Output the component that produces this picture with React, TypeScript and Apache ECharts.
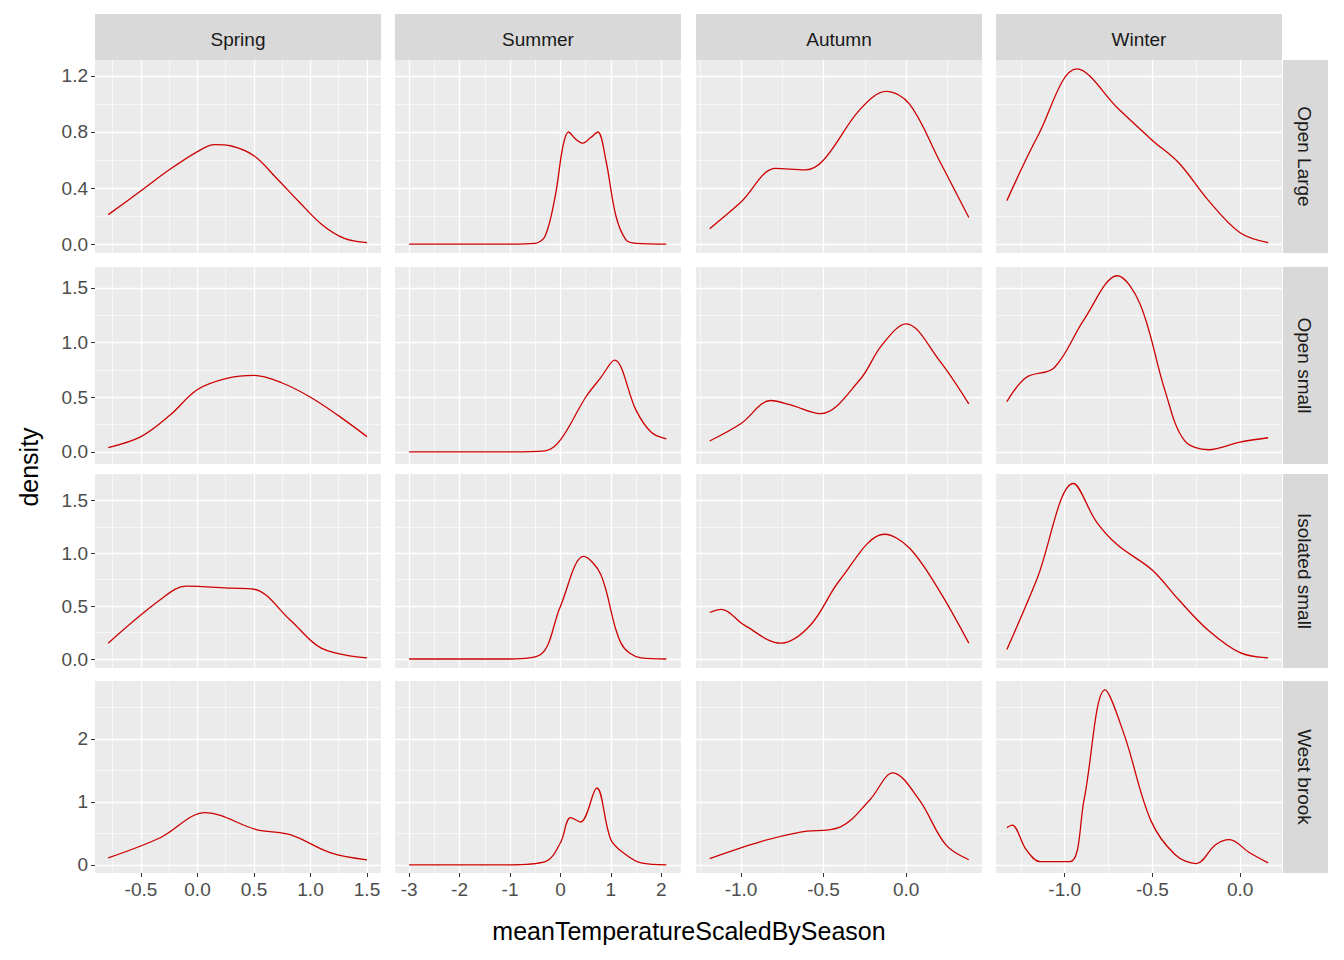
import { useEffect, useRef } from "react";
import * as echarts from "echarts";

const SEASONS = ["Spring", "Summer", "Autumn", "Winter"];
const SITES = ["Open Large", "Open small", "Isolated small", "West brook"];

// x ranges / ticks per column (free x)
const X_RANGE = [[-0.907, 1.624], [-3.28, 2.39], [-1.273, 0.46], [-1.392, 0.239]];
const X_MAJOR = [[-0.5, 0, 0.5, 1, 1.5], [-3, -2, -1, 0, 1, 2], [-1, -0.5, 0], [-1, -0.5, 0]];
const X_MINOR = [[-0.75, -0.25, 0.25, 0.75, 1.25], [-2.5, -1.5, -0.5, 0.5, 1.5], [-1.25, -0.75, -0.25, 0.25], [-1.25, -0.75, -0.25]];
// y ranges / ticks per row (free y)
const Y_RANGE = [[-0.064, 1.314], [-0.11, 1.69], [-0.085, 1.75], [-0.13, 2.92]];
const Y_MAJOR = [[0, 0.4, 0.8, 1.2], [0, 0.5, 1, 1.5], [0, 0.5, 1, 1.5], [0, 1, 2]];
const Y_MINOR = [[0.2, 0.6, 1.0], [0.25, 0.75, 1.25], [0.25, 0.75, 1.25], [0.5, 1.5, 2.5]];

// density curves [row][col] as [x, y] pairs
const OL_SPRING = [[-0.79, 0.21], [-0.5, 0.38], [-0.25, 0.53], [0, 0.66], [0.15, 0.71], [0.3, 0.7], [0.5, 0.63], [0.7, 0.47], [0.9, 0.3], [1.1, 0.14], [1.3, 0.04], [1.5, 0.01]];
const OL_SUMMER = [[-3, 0], [-1, 0], [-0.5, 0.005], [-0.3, 0.06], [-0.1, 0.35], [0.05, 0.7], [0.16, 0.8], [0.3, 0.75], [0.44, 0.72], [0.6, 0.76], [0.74, 0.8], [0.9, 0.6], [1.1, 0.2], [1.3, 0.03], [1.5, 0.005], [2.1, 0]];
const OL_AUTUMN = [[-1.19, 0.11], [-1.0, 0.3], [-0.79, 0.54], [-0.61, 0.53], [-0.5, 0.6], [-0.28, 0.96], [-0.12, 1.09], [0.02, 1.0], [0.2, 0.6], [0.38, 0.19]];
const OL_WINTER = [[-1.33, 0.31], [-1.15, 0.78], [-0.93, 1.25], [-0.69, 0.96], [-0.5, 0.74], [-0.35, 0.58], [-0.18, 0.31], [0, 0.08], [0.16, 0.01]];
const OS_SPRING = [[-0.79, 0.04], [-0.5, 0.14], [-0.25, 0.33], [0, 0.57], [0.25, 0.67], [0.5, 0.7], [0.75, 0.63], [1.0, 0.5], [1.25, 0.33], [1.5, 0.14]];
const OS_SUMMER = [[-3, 0], [-1, 0], [-0.3, 0.01], [0, 0.11], [0.5, 0.5], [0.8, 0.68], [1.07, 0.84], [1.5, 0.38], [1.8, 0.18], [2.1, 0.12]];
const OS_AUTUMN = [[-1.19, 0.1], [-1.0, 0.26], [-0.82, 0.47], [-0.7, 0.43], [-0.52, 0.35], [-0.28, 0.66], [-0.15, 0.97], [0, 1.17], [0.2, 0.84], [0.38, 0.44]];
const OS_WINTER = [[-1.33, 0.46], [-1.22, 0.68], [-1.06, 0.77], [-0.89, 1.21], [-0.7, 1.61], [-0.57, 1.35], [-0.43, 0.57], [-0.32, 0.11], [-0.18, 0.02], [0, 0.09], [0.16, 0.13]];
const IS_SPRING = [[-0.79, 0.15], [-0.33, 0.56], [-0.1, 0.69], [0.3, 0.67], [0.5, 0.66], [0.82, 0.37], [1.1, 0.1], [1.5, 0.01]];
const IS_SUMMER = [[-3, 0], [-1, 0], [-0.4, 0.04], [0, 0.5], [0.46, 0.97], [0.8, 0.8], [1.2, 0.15], [1.6, 0.01], [2.1, 0]];
const IS_AUTUMN = [[-1.19, 0.44], [-1.12, 0.47], [-0.98, 0.32], [-0.76, 0.15], [-0.58, 0.32], [-0.4, 0.75], [-0.13, 1.18], [0.02, 1.05], [0.2, 0.65], [0.38, 0.15]];
const IS_WINTER = [[-1.33, 0.09], [-1.16, 0.75], [-0.95, 1.66], [-0.82, 1.3], [-0.7, 1.08], [-0.5, 0.84], [-0.35, 0.56], [-0.18, 0.27], [0, 0.06], [0.16, 0.01]];
const WB_SPRING = [[-0.79, 0.11], [-0.33, 0.43], [0.07, 0.83], [0.52, 0.56], [0.82, 0.48], [1.18, 0.19], [1.5, 0.08]];
const WB_SUMMER = [[-3, 0], [-1, 0], [-0.3, 0.05], [0, 0.35], [0.2, 0.75], [0.4, 0.68], [0.72, 1.22], [1.0, 0.4], [1.3, 0.16], [1.6, 0.03], [2.1, 0]];
const WB_AUTUMN = [[-1.19, 0.1], [-0.88, 0.37], [-0.64, 0.52], [-0.4, 0.6], [-0.22, 1.03], [-0.08, 1.46], [0.08, 1.03], [0.24, 0.32], [0.38, 0.08]];
const WB_WINTER = [[-1.33, 0.59], [-1.3, 0.63], [-1.22, 0.24], [-1.14, 0.05], [-0.97, 0.05], [-0.89, 1.03], [-0.77, 2.78], [-0.66, 2.06], [-0.51, 0.71], [-0.37, 0.16], [-0.25, 0.02], [-0.14, 0.32], [-0.06, 0.4], [0.05, 0.2], [0.16, 0.03]];

const CURVES = [
  [OL_SPRING, OL_SUMMER, OL_AUTUMN, OL_WINTER],
  [OS_SPRING, OS_SUMMER, OS_AUTUMN, OS_WINTER],
  [IS_SPRING, IS_SUMMER, IS_AUTUMN, IS_WINTER],
  [WB_SPRING, WB_SUMMER, WB_AUTUMN, WB_WINTER],
];

const COL_L = [95, 395, 696, 996];
const COL_W = 286;
const ROW_T = [60, 267, 474, 681];
const ROW_H = [193, 197, 194, 192];
const FONT = "Liberation Sans, Arial, sans-serif";
const LAB = "#4D4D4D";

export default function App() {
  const ref = useRef<HTMLDivElement>(null);

  useEffect(() => {
    if (!ref.current) return;
    const chart = echarts.init(ref.current, undefined, { renderer: "svg" });
    const grid: any[] = [];
    const xAxis: any[] = [];
    const yAxis: any[] = [];
    const series: any[] = [];
    const graphic: any[] = [];

    for (let r = 0; r < 4; r++) {
      for (let c = 0; c < 4; c++) {
        const g = grid.length;
        grid.push({ left: COL_L[c], top: ROW_T[r], width: COL_W, height: ROW_H[r], show: true, backgroundColor: "#EBEBEB", borderWidth: 0 });
        const xFmt = c === 1 ? (v: number) => String(v) : (v: number) => v.toFixed(1);
        const yFmt = r === 3 ? (v: number) => String(v) : (v: number) => v.toFixed(1);
        const bottom = r === 3;
        const left = c === 0;
        xAxis.push({
          type: "value", gridIndex: g, min: X_RANGE[c][0], max: X_RANGE[c][1], z: 3,
          axisLine: { show: false, onZero: false },
          axisTick: { show: bottom, length: 4, lineStyle: { color: "#333" }, customValues: X_MAJOR[c] },
          axisLabel: { show: bottom, customValues: X_MAJOR[c], formatter: xFmt, color: LAB, fontSize: 19, fontFamily: FONT, margin: 7 },
          splitLine: { show: true, lineStyle: { color: "#FFFFFF", width: 1.3 } },
        });
        xAxis.push({
          type: "value", gridIndex: g, min: X_RANGE[c][0], max: X_RANGE[c][1],
          axisLine: { show: false, onZero: false },
          axisTick: { show: false, customValues: X_MINOR[c] },
          axisLabel: { show: false, customValues: X_MINOR[c] },
          splitLine: { show: true, lineStyle: { color: "#FFFFFF", width: 0.6 } },
        });
        yAxis.push({
          type: "value", gridIndex: g, min: Y_RANGE[r][0], max: Y_RANGE[r][1],
          axisLine: { show: false, onZero: false },
          axisTick: { show: left, length: 4, lineStyle: { color: "#333" }, customValues: Y_MAJOR[r] },
          axisLabel: { show: left, customValues: Y_MAJOR[r], formatter: yFmt, color: LAB, fontSize: 19, fontFamily: FONT, margin: 7 },
          splitLine: { show: true, lineStyle: { color: "#FFFFFF", width: 1.3 } },
        });
        yAxis.push({
          type: "value", gridIndex: g, min: Y_RANGE[r][0], max: Y_RANGE[r][1],
          axisLine: { show: false, onZero: false },
          axisTick: { show: false, customValues: Y_MINOR[r] },
          axisLabel: { show: false, customValues: Y_MINOR[r] },
          splitLine: { show: true, lineStyle: { color: "#FFFFFF", width: 0.6 } },
        });
        series.push({
          type: "line", xAxisIndex: g * 2, yAxisIndex: g * 2, data: CURVES[r][c],
          smooth: 0.35, symbol: "none", z: 5,
          lineStyle: { color: "#CC0000", width: 1.3 },
        });
      }
    }

    SEASONS.forEach((s, c) => {
      graphic.push({ type: "rect", left: COL_L[c], top: 14, shape: { width: COL_W, height: 46 }, style: { fill: "#D9D9D9" } });
      graphic.push({ type: "text", x: COL_L[c] + COL_W / 2, y: 39, style: { text: s, fill: "#1A1A1A", font: `19px ${FONT}`, align: "center", verticalAlign: "middle" } });
    });
    SITES.forEach((s, r) => {
      graphic.push({ type: "rect", left: 1283, top: ROW_T[r], shape: { width: 45, height: ROW_H[r] }, style: { fill: "#D9D9D9" } });
      graphic.push({ type: "text", x: 1304, y: ROW_T[r] + ROW_H[r] / 2, rotation: -Math.PI / 2, style: { text: s, fill: "#1A1A1A", font: `19px ${FONT}`, align: "center", verticalAlign: "middle" } });
    });
    graphic.push({ type: "text", x: 689, y: 931, style: { text: "meanTemperatureScaledBySeason", fill: "#000", font: `25px ${FONT}`, align: "center", verticalAlign: "middle" } });
    graphic.push({ type: "text", x: 29, y: 467, rotation: Math.PI / 2, style: { text: "density", fill: "#000", font: `25px ${FONT}`, align: "center", verticalAlign: "middle" } });

    chart.setOption({ animation: false, backgroundColor: "#FFFFFF", grid, xAxis, yAxis, series, graphic });
    return () => chart.dispose();
  }, []);

  return <div ref={ref} style={{ position: "fixed", left: 0, top: 0, width: 1344, height: 960 }} />;
}
